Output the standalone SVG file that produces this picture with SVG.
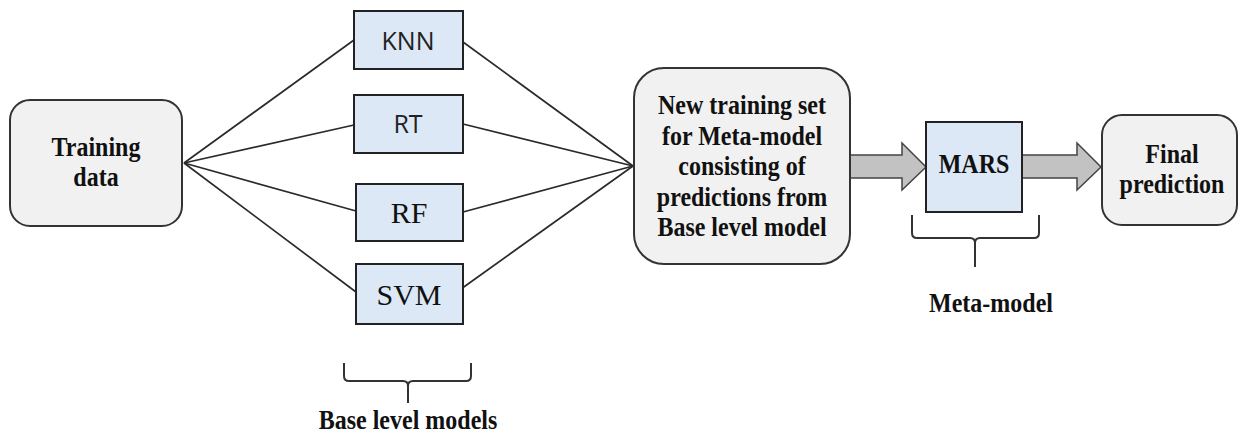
<svg xmlns="http://www.w3.org/2000/svg" width="1246" height="435" viewBox="0 0 1246 435">
<style>
.round{fill:#f1f1f1;stroke:#333;stroke-width:2}
.blue{fill:#dce8f5;stroke:#222;stroke-width:2}
.bt{font-family:"Liberation Serif","Times New Roman",serif;font-weight:bold;font-size:24px;fill:#111;text-anchor:middle}
.sans{font-family:"Open Sans","Noto Sans",sans-serif;font-size:25px;fill:#222;text-anchor:middle}
.serif{font-family:"Liberation Serif","Times New Roman",serif;font-size:30px;fill:#111;text-anchor:middle}
.ln{stroke:#2a2a2a;stroke-width:1.7;fill:none}
.arr{fill:#c2c2c2;stroke:#444;stroke-width:1.5}
.br{stroke:#333;stroke-width:2;fill:none}
</style>
<rect width="1246" height="435" fill="#fff"/>
<g id="connectors">
<line class="ln" x1="184" y1="163" x2="354" y2="40"/>
<line class="ln" x1="184" y1="163" x2="354" y2="125"/>
<line class="ln" x1="184" y1="163" x2="356" y2="211"/>
<line class="ln" x1="184" y1="163" x2="356" y2="292"/>
<line class="ln" x1="463" y1="42" x2="633" y2="166"/>
<line class="ln" x1="463" y1="124" x2="633" y2="166"/>
<line class="ln" x1="463" y1="212" x2="633" y2="166"/>
<line class="ln" x1="461" y1="289" x2="633" y2="166"/>
<polygon class="arr" points="850,155 902,155 902,143 926,167 902,190 902,178 850,178"/>
<polygon class="arr" points="1022,155 1077,155 1077,143 1101,167 1077,190 1077,178 1022,178"/>
</g>
<g id="training-data">
<rect class="round" x="10" y="100" width="172" height="126" rx="20"/>
<text class="bt" transform="translate(96,156) scale(1,1.17)">Training</text>
<text class="bt" transform="translate(96,186) scale(1,1.17)">data</text>
</g>
<g id="knn">
<rect class="blue" x="354" y="11" width="109" height="58"/>
<text class="sans" x="408" y="50">KNN</text>
</g>
<g id="rt">
<rect class="blue" x="354" y="95" width="109" height="58"/>
<text class="sans" x="408" y="133">RT</text>
</g>
<g id="rf">
<rect class="blue" x="356" y="184" width="107" height="57"/>
<text class="serif" x="409" y="223">RF</text>
</g>
<g id="svm">
<rect class="blue" x="356" y="264" width="107" height="60"/>
<text class="serif" x="409" y="305">SVM</text>
</g>
<g id="new-training-set">
<rect class="round" x="634" y="68" width="216" height="196" rx="30"/>
<text class="bt" transform="translate(742,114) scale(1,1.17)">New training set</text>
<text class="bt" transform="translate(742,145) scale(1,1.17)">for Meta-model</text>
<text class="bt" transform="translate(742,175) scale(1,1.17)">consisting of</text>
<text class="bt" transform="translate(742,206) scale(1,1.17)">predictions from</text>
<text class="bt" transform="translate(742,236) scale(1,1.17)">Base level model</text>
</g>
<g id="mars">
<rect class="blue" x="926" y="122" width="96" height="90"/>
<text class="bt" transform="translate(974,173) scale(1,1.17)">MARS</text>
</g>
<g id="final-prediction">
<rect class="round" x="1102" y="115" width="135" height="110" rx="20"/>
<text class="bt" transform="translate(1172,163) scale(1,1.17)">Final</text>
<text class="bt" transform="translate(1172,193) scale(1,1.17)">prediction</text>
</g>
<g id="base-level-models">
<path class="br" d="M344,363 L344,376 Q344,381 349,381 L403,381 Q408,381 408,386 L408,403 M408,386 Q408,381 413,381 L466,381 Q471,381 471,376 L471,363"/>
<text class="bt" transform="translate(408,429) scale(1,1.17)">Base level models</text>
</g>
<g id="meta-model">
<path class="br" d="M912,215 L912,233 Q912,238 917,238 L970,238 Q975,238 975,243 L975,267 M975,243 Q975,238 980,238 L1034,238 Q1039,238 1039,233 L1039,215"/>
<text class="bt" transform="translate(991,312) scale(1,1.17)">Meta-model</text>
</g>
</svg>
